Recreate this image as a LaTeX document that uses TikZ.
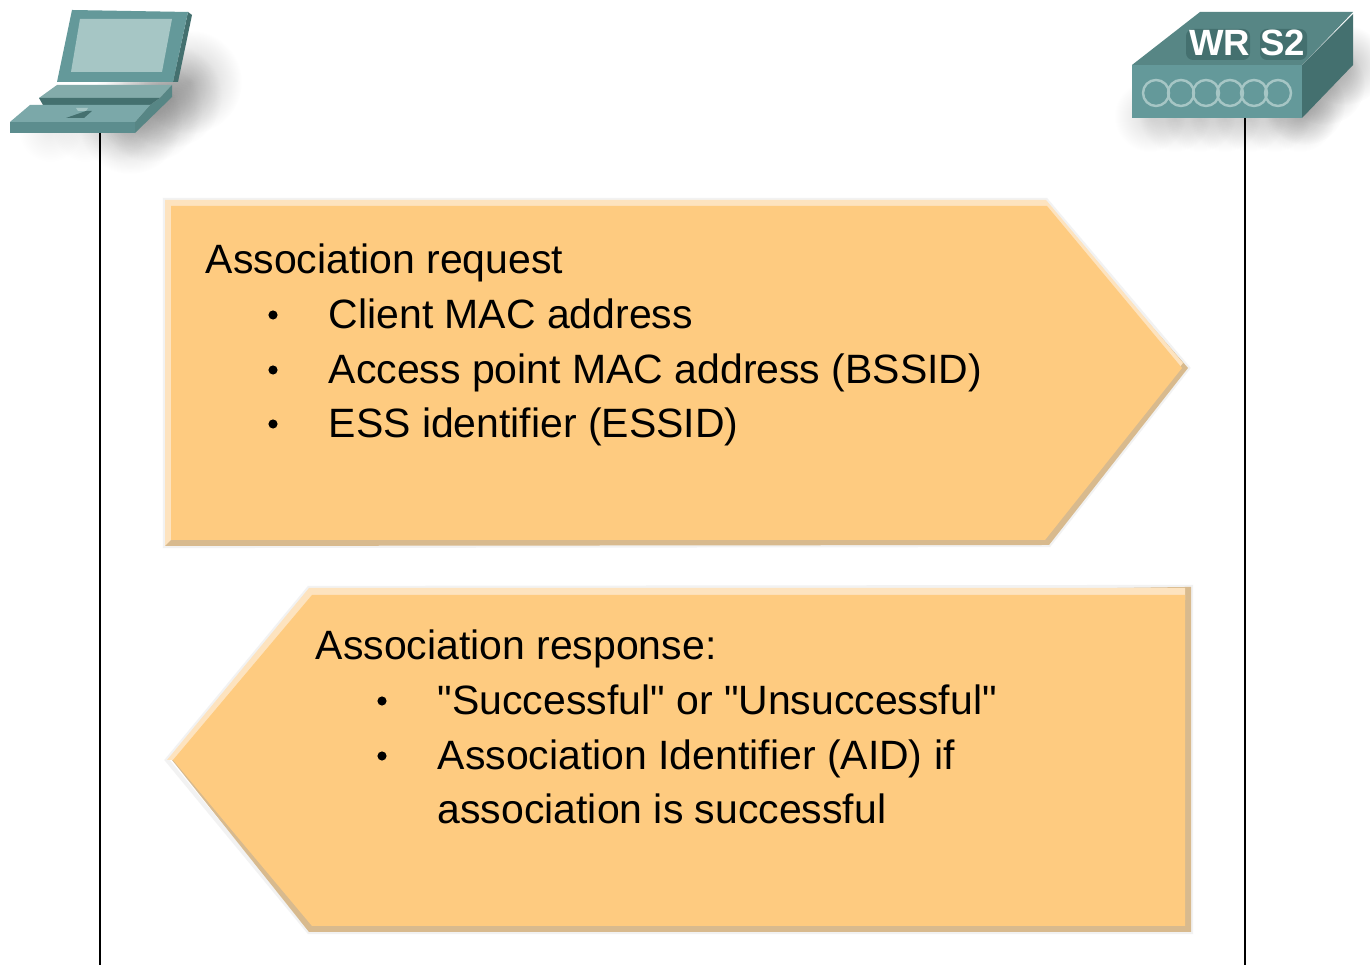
\documentclass[tikz,border=0pt]{standalone}
\usepackage{fontspec}
\newfontfamily\labelfont{Liberation Sans}
\usetikzlibrary{fadings}

\definecolor{boxfill}{HTML}{FECB80}
\definecolor{boxedge}{HTML}{FDE3BF}
\definecolor{boxdark}{HTML}{D8BA8E}
\definecolor{tealmid}{HTML}{64999A}
\definecolor{teallight}{HTML}{A6C6C5}
\definecolor{tealdark}{HTML}{44706F}
\definecolor{tealtop}{HTML}{578685}
\definecolor{tealkey}{HTML}{83ABAA}

\tikzfading[name=softblob, inner color=transparent!0, outer color=transparent!100]

\tikzset{
	msgtext/.style = {anchor=base west, inner sep=0pt, font=\labelfont\fontsize{11.65pt}{14pt}\selectfont, text=black},
	msgdot/.style = {circle, fill=black, inner sep=0pt, minimum size=2.6pt},
	lifeline/.style = {draw=black, line width=0.7pt},
	softshadow/.style = {fill=black, path fading=softblob},
	halo/.style = {draw=black!5, line width=1.2pt},
}

\begin{document}
\begin{tikzpicture}[x=0.01cm, y=-0.01cm]
	\useasboundingbox[fill=white] (0,0) rectangle (1370,965);

	% shadows of the two devices
	\foreach \x/\y in {130/122,150/110,170/96,190/82} {
		\fill[softshadow, opacity=0.22] (\x,\y) circle (52);
	}
	\foreach \x in {50,85,120} {
		\fill[softshadow, opacity=0.08] (\x,130) circle (32);
	}
	\foreach \x in {1150,1175,...,1300} {
		\fill[softshadow, opacity=0.14] (\x,116) circle (36);
	}
	\foreach \x/\y in {1305/105,1325/85,1345/65} {
		\fill[softshadow, opacity=0.25] (\x,\y) circle (40);
	}

	% message boxes
	\path[halo] (165,200) -- (1046,200) -- (1188,368) -- (1049,545) -- (165,546) -- cycle;
	\fill[boxdark] (171,210) -- (1047,206) -- (1188,368) -- (1049,545) -- (165,546) -- cycle;
	\fill[boxedge] (165,200) -- (1046,200) -- (1183,363) -- (1045,536) -- (171,536) -- (171,540) -- (165,546) -- cycle;
	\fill[boxfill] (171,206) -- (1047,206) -- (1182,368) -- (1045,540) -- (171,540) -- cycle;

	\path[halo] (167,760) -- (309,588) -- (1191,587) -- (1191,932) -- (309,932) -- cycle;
	\fill[boxdark] (172,760) -- (312,600) -- (1185,587) -- (1191,587) -- (1191,932) -- (309,932) -- cycle;
	\fill[boxedge] (167,760) -- (309,588) -- (1185,588) -- (1185,600) -- (180,760) -- cycle;
	\fill[boxfill] (173,760) -- (312,595) -- (1185,595) -- (1185,926) -- (312,926) -- cycle;

	% laptop
	\fill[tealdark] (188,12) -- (192,15) -- (178,82) -- (173,82) -- cycle;
	\fill[tealmid] (72,10) -- (188,12) -- (173,82) -- (57,82) -- cycle;
	\fill[teallight] (80,19) -- (172,19) -- (162,72) -- (71,72) -- cycle;
	\fill[tealkey] (57,85) -- (172,85) -- (160,98) -- (39,98) -- cycle;
	\fill[tealdark] (39,98) -- (160,98) -- (150,105) -- (43,105) -- cycle;
	\fill[tealtop] (160,98) -- (172,85) -- (172,97) -- (135,133) -- (135,122) -- (150,105) -- cycle;
	\fill[tealmid!85!white] (30,105) -- (150,105) -- (135,122) -- (10,122) -- cycle;
	\fill[tealmid!92!black] (10,122) -- (135,122) -- (135,133) -- (10,133) -- cycle;
	\fill[tealdark] (66,118) -- (86,111) -- (92,111) -- (84,118) -- cycle;
	\fill[teallight] (76,108) -- (88,108) -- (86,111) -- (78,111) -- cycle;

	% access point
	\fill[tealtop] (1132,65) -- (1200,12) -- (1353,12) -- (1302,65) -- cycle;
	\fill[tealdark] (1302,65) -- (1353,14) -- (1353,65) -- (1302,118) -- cycle;
	\fill[tealmid] (1132,65) -- (1302,65) -- (1302,118) -- (1132,118) -- cycle;
	\foreach \x in {1156,1181,1206,1230,1254,1278} {
		\draw[teallight, line width=0.7pt] (\x,93) circle (13);
	}
	\fill[tealdark, rounded corners=2pt] (1186,29) rectangle (1250,60);
	\fill[tealdark, rounded corners=2pt] (1260,29) rectangle (1307,60);
	\node[anchor=base, inner sep=0pt, text=white, font=\labelfont\bfseries\fontsize{10.4pt}{12pt}\selectfont] (switchname) at (1247,56) {WR S2};

	% lifelines
	\coordinate (laptop) at (100,133);
	\coordinate (laptopend) at (100,965);
	\coordinate (switch) at (1245,118);
	\coordinate (switchend) at (1245,965);
	\draw[lifeline] (laptop) -- (laptopend);
	\draw[lifeline] (switch) -- (switchend);

	% request
	\node[msgtext] (reqtitle) at (205,274) {Association request};
	\node[msgdot] (reqdota) at (273,315) {};
	\node[msgtext] (reqa) at (328,329) {Client MAC address};
	\node[msgdot] (reqdotb) at (273,370) {};
	\node[msgtext] (reqb) at (328,384) {Access point MAC address (BSSID)};
	\node[msgdot] (reqdotc) at (273,424) {};
	\node[msgtext] (reqc) at (328,438) {ESS identifier (ESSID)};

	% response
	\node[msgtext] (resptitle) at (315,660) {Association response:};
	\node[msgdot] (respdota) at (382,701) {};
	\node[msgtext] (respa) at (437,715) {"Successful" or "Unsuccessful"};
	\node[msgdot] (respdotb) at (382,756) {};
	\node[msgtext] (respb) at (437,770) {Association Identifier (AID) if};
	\node[msgtext] (respc) at (437,824) {association is successful};
\end{tikzpicture}
\end{document}
